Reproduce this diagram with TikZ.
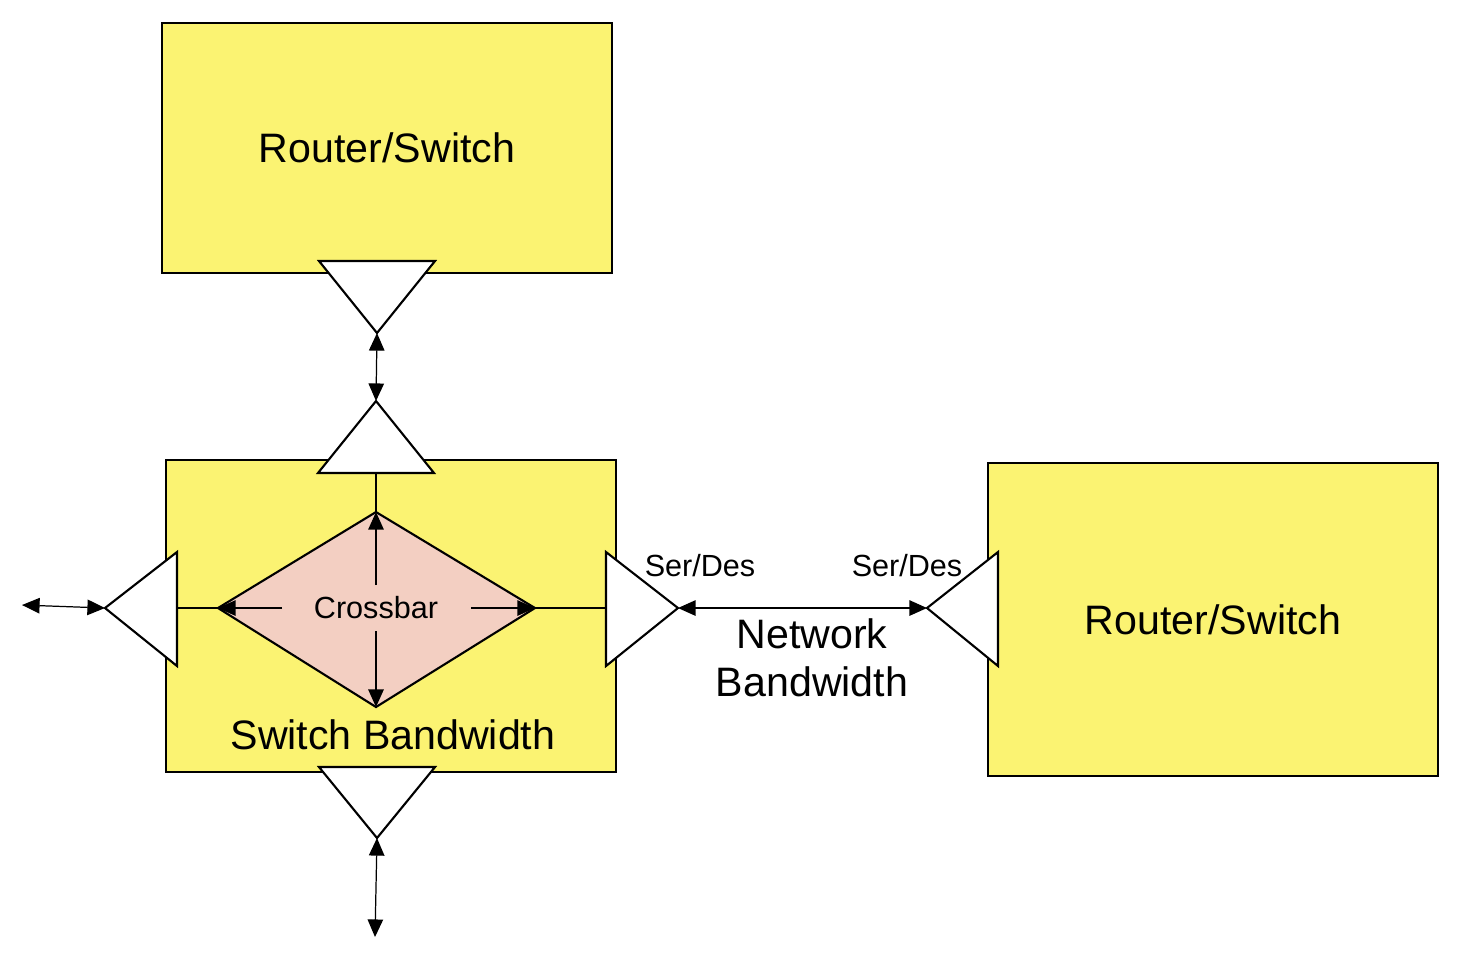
\documentclass[tikz,border=0pt]{standalone}
\usepackage{fontspec}
\setmainfont{Liberation Sans}
\usepackage{tikz}
\usetikzlibrary{arrows.meta}
\definecolor{unityellow}{RGB}{251,243,114}
\definecolor{xbarpink}{RGB}{243,207,194}

\tikzset{
  unit/.style={draw=black, fill=unityellow, line width=0.6pt},
  port/.style={draw=black, fill=white, line width=0.6pt, line join=miter},
  xbarshape/.style={draw=black, fill=xbarpink, line width=0.6pt, line join=miter},
  wire/.style={line width=0.35pt},
  link/.style={line width=0.35pt, {Triangle[length=5pt,width=4.4pt]}-{Triangle[length=5pt,width=4.4pt]}},
  ray/.style={line width=0.35pt, -{Triangle[length=5pt,width=4.4pt]}},
  bigtxt/.style={font=\fontsize{11.7}{13.7}\selectfont, align=center},
  smalltxt/.style={font=\fontsize{8.7}{10}\selectfont}
}

\begin{document}
\begin{tikzpicture}[x=0.01cm, y=-0.01cm]
            % Frame to fix the page size:
            \path[use as bounding box]                          (   0,   0) rectangle (1464, 956);
            % Router/switch boxes:
            \node[unit, bigtxt, minimum width=4.5cm, minimum height=2.5cm]   (topbox)  at ( 387, 148) {Router/Switch};
            \node[unit, minimum width=4.5cm, minimum height=3.12cm]          (swbox)   at ( 391, 616) {};
            \node[unit, bigtxt, minimum width=4.5cm, minimum height=3.13cm]  (rembox)  at (1213, 619.5) {Router/Switch};
            % Apexes and base centres of the ports:
            \coordinate (upA)  at ( 377, 333);
            \coordinate (swN)  at ( 376, 401);  \coordinate (swNb) at ( 376, 473);
            \coordinate (swW)  at ( 105, 608);  \coordinate (swWb) at ( 177, 608);
            \coordinate (swE)  at ( 678, 608);  \coordinate (swEb) at ( 606, 608);
            \coordinate (swS)  at ( 377, 838);
            \coordinate (remW) at ( 927, 608);
            \coordinate (farW) at (  22, 605);
            \coordinate (farS) at ( 375, 937);
            % Ports:
            \draw[port] ( 319, 261) -- ( 435, 261) -- (upA) -- cycle;
            \draw[port] ( 318, 473) -- ( 434, 473) -- (swN) -- cycle;
            \draw[port] ( 177, 552) -- ( 177, 666) -- (swW) -- cycle;
            \draw[port] ( 606, 552) -- ( 606, 666) -- (swE) -- cycle;
            \draw[port] ( 319, 767) -- ( 435, 767) -- (swS) -- cycle;
            \draw[port] ( 998, 552) -- ( 998, 666) -- (remW) -- cycle;
            % Crossbar:
            \coordinate (xbN) at ( 376, 512);
            \coordinate (xbE) at ( 535, 608);
            \coordinate (xbS) at ( 376, 707);
            \coordinate (xbW) at ( 218, 608);
            \draw[xbarshape] (xbN) -- (xbE) -- (xbS) -- (xbW) -- cycle;
            \node[smalltxt] (xbar) at ( 376, 608) {Crossbar};
            \coordinate (xbarN) at ( 376, 585);
            \coordinate (xbarS) at ( 376, 631);
            \coordinate (xbarW) at ( 282, 608);
            \coordinate (xbarE) at ( 471, 608);
            \draw[ray] (xbarN) -- (xbN);
            \draw[ray] (xbarS) -- (xbS);
            \draw[ray] (xbarW) -- (xbW);
            \draw[ray] (xbarE) -- (xbE);
            % Wires and links:
            \draw[wire] (swNb) -- (xbN);
            \draw[wire] (xbW) -- (swWb);
            \draw[wire] (xbE) -- (swEb);
            \draw[link] (upA) -- (swN);
            \draw[link] (farW) -- (swW);
            \draw[link] (swE) -- (remW);
            \draw[link] (swS) -- (farS);
            % Labels:
            \node[smalltxt] (sdL)  at ( 700, 566) {Ser/Des};
            \node[smalltxt] (sdR)  at ( 907, 566) {Ser/Des};
            \node[bigtxt]   (netbw) at ( 812, 658) {Network\\Bandwidth};
            \node[bigtxt]   (swbw)  at ( 393, 735) {Switch Bandwidth};
\end{tikzpicture}
\end{document}
